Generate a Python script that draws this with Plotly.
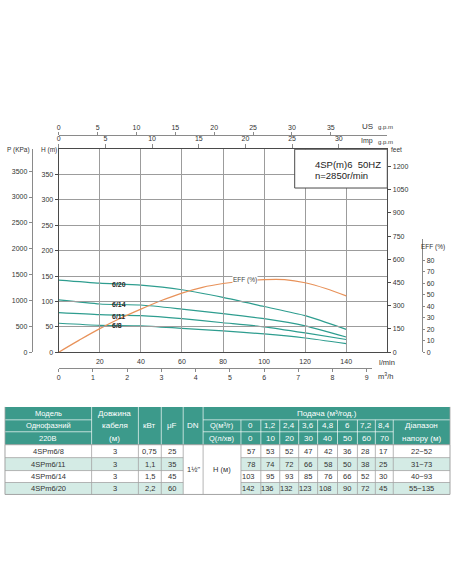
import plotly.graph_objects as go

flow_lmin = [0, 20, 40, 60, 80, 100, 120, 140]
head_6_8 = [57, 53, 52, 47, 42, 36, 28, 17]
head_6_11 = [78, 74, 72, 66, 58, 50, 38, 25]
head_6_14 = [103, 95, 93, 85, 76, 66, 52, 30]
head_6_20 = [142, 136, 132, 123, 108, 90, 72, 45]
curve_names = ["6/8", "6/11", "6/14", "6/20"]

eff_flow = [0, 10, 20, 30, 40, 50, 60, 70, 80, 90, 100, 110, 120, 130, 140]
eff_pct = [0, 10.5, 20.5, 29.5, 37.5, 45, 51.5, 56.5, 59.8, 62, 63.2, 63.2, 60.5, 55.5, 49]

# Table data
models = ["4SPm6/8", "4SPm6/11", "4SPm6/14", "4SPm6/20"]
cable_m = ["3", "3", "3", "3"]
power_kw = ["0,75", "1,1", "1,5", "2,2"]
cap_uf = ["25", "35", "45", "60"]
q_m3h = ["0", "1,2", "2,4", "3,6", "4,8", "6", "7,2", "8,4"]
q_lmin = ["0", "10", "20", "30", "40", "50", "60", "70"]
head_range = ["22~52", "31~73", "40~93", "55~135"]

W, H = 452, 584
FONT = "Liberation Sans, Arial, sans-serif"
TEAL_LINE = "#2e9d8f"
ORANGE = "#e8925a"
TEAL = "#3c9a8b"
LIGHT = "#d4ebe5"
GRID = "#9c9c9c"
FRAME = "#4a4a4a"
TXT = "#333333"


def px(x):
    return x / W


def py(y):
    return 1 - y / H


fig = go.Figure()

# head curves
curve_heads = [head_6_8, head_6_11, head_6_14, head_6_20]
for name, heads in zip(curve_names, curve_heads):
    fig.add_trace(go.Scatter(
        x=flow_lmin, y=heads, mode='lines', name=name,
        line=dict(color=TEAL_LINE, width=1.2, shape='spline', smoothing=0.6),
        showlegend=False, hoverinfo='skip'
    ))

# efficiency curve
fig.add_trace(go.Scatter(
    x=eff_flow, y=eff_pct, mode='lines', name='EFF', xaxis='x', yaxis='y3',
    line=dict(color=ORANGE, width=1.2, shape='spline'),
    showlegend=False, hoverinfo='skip'
))

# invisible helpers so the extra scales get drawn
for xa, ya in [('x', 'y2'), ('x', 'y4'), ('x2', 'y'), ('x3', 'y'), ('x4', 'y')]:
    fig.add_trace(go.Scatter(x=[0], y=[0], xaxis=xa, yaxis=ya, mode='markers',
                             marker=dict(opacity=0), showlegend=False, hoverinfo='skip'))

tick_font = dict(family=FONT, size=7, color=TXT)
x_dom = [px(57), px(387)]
y_dom = [py(354), py(150)]

fig.update_layout(
    width=W, height=H, autosize=False,
    margin=dict(l=0, r=0, t=0, b=0),
    paper_bgcolor='white', plot_bgcolor='rgba(0,0,0,0)',
    font=dict(family=FONT, color=TXT),
    xaxis=dict(domain=x_dom, range=[0, 160], tickvals=list(range(20, 141, 20)),
               showgrid=True, gridcolor=GRID, gridwidth=1, zeroline=False,
               showline=True, mirror=True, linecolor=FRAME, linewidth=1.2,
               ticks='', tickfont=tick_font, ticklabelstandoff=2),
    yaxis=dict(domain=y_dom, range=[0, 400], tickvals=list(range(0, 351, 50)),
               showgrid=True, gridcolor=GRID, gridwidth=1, zeroline=False,
               showline=True, mirror=True, linecolor=FRAME, linewidth=1.2,
               ticks='outside', ticklen=3, tickcolor=FRAME, tickfont=tick_font),
    yaxis2=dict(overlaying='y', anchor='free', position=px(30), side='left',
                range=[0, 400 * 9.81], tickvals=list(range(0, 3501, 500)),
                showgrid=False, zeroline=False, showline=True, linecolor='#8a8a8a',
                linewidth=1.2, ticks='outside', ticklen=3, tickcolor='#8a8a8a',
                tickfont=tick_font),
    yaxis4=dict(overlaying='y', anchor='x', side='right',
                range=[0, 400 * 3.2808], tickvals=list(range(0, 1201, 150)),
                showgrid=False, zeroline=False, showline=True, linecolor=FRAME,
                linewidth=1.2, ticks='outside', ticklen=3, tickcolor=FRAME,
                tickfont=tick_font),
    yaxis3=dict(domain=[py(354), py(240)], anchor='free', position=px(422), side='right',
                range=[0, (354 - 240) / 1.154], tickvals=list(range(0, 81, 10)),
                showgrid=False, zeroline=False, showline=True, linecolor='#8a8a8a',
                linewidth=1.2, ticks='outside', ticklen=2, tickcolor='#8a8a8a',
                tickfont=tick_font),
    xaxis2=dict(overlaying='x', anchor='free', position=py(136), side='top',
                range=[0, 160 / 3.7854], tickvals=list(range(0, 36, 5)),
                showgrid=False, zeroline=False, showline=True, linecolor='#8a8a8a',
                linewidth=1, ticks='outside', ticklen=3, tickcolor='#8a8a8a',
                tickfont=tick_font),
    xaxis3=dict(overlaying='x', anchor='y', side='top',
                range=[0, 160 / 4.5461], tickvals=list(range(0, 31, 5)),
                showgrid=False, zeroline=False, showline=False,
                ticks='outside', ticklen=4, tickcolor='#8a8a8a', tickfont=tick_font),
    xaxis4=dict(domain=[px(57), px(372)], anchor='free', position=py(369.5), side='bottom',
                range=[0, 315 / 34.375], tickvals=list(range(0, 10)),
                showgrid=False, zeroline=False, showline=True, linecolor='#8a8a8a',
                linewidth=1, ticks='outside', ticklen=3, tickcolor='#8a8a8a',
                tickfont=tick_font),
)

shapes = []
annotations = []


def text(x, y, s, size=7, color=TXT, anchor='center', bold=False, bg=None):
    if bold:
        s = '<b>' + s + '</b>'
    a = dict(xref='paper', yref='paper', x=px(x), y=py(y), text=s, showarrow=False,
             xanchor=anchor, yanchor='middle', font=dict(family=FONT, size=size, color=color))
    if bg:
        a['bgcolor'] = bg
        a['borderpad'] = 0
    annotations.append(a)


def rect(x0, y0, x1, y1, fill, line=None, width=0):
    shapes.append(dict(type='rect', xref='paper', yref='paper', layer='above',
                       x0=px(x0), x1=px(x1), y0=py(y1), y1=py(y0), fillcolor=fill,
                       line=dict(width=width, color=line or fill)))


def seg(x0, y0, x1, y1, color, width=0.8):
    shapes.append(dict(type='line', xref='paper', yref='paper', layer='above',
                       x0=px(x0), x1=px(x1), y0=py(y0), y1=py(y1),
                       line=dict(color=color, width=width)))


# axis captions
text(17, 151, 'P (KPa)', size=6.5)
text(47.5, 151, 'H (m)', size=6.5)
text(396, 150, 'feet', size=6.5)
text(433, 248, 'EFF (%)', size=6.5)
text(375, 127, 'US', size=8, anchor='right')
text(376, 128, 'g.p.m', size=6, anchor='left')
text(375, 142, 'Imp', size=7, anchor='right')
text(376, 142.5, 'g.p.m', size=6, anchor='left')
text(387, 364, 'l/min', size=7.5)
text(385, 378, 'm<sup>3</sup>/h', size=7.5)

# curve labels
label_pos = {"6/20": (118, 285.5), "6/14": (117.5, 306.5), "6/11": (117.5, 318.5), "6/8": (116, 327.5)}
for name in curve_names:
    lx, ly = label_pos[name]
    text(lx, ly, name, size=7, color='#2b2b2b', bold=True)
text(244.5, 281, 'EFF (%)', size=6.5, color='#444', bg='white')

# info box
rect(294, 150, 387, 189, 'white', line=FRAME, width=1)
text(312, 165, '4SP(m)6&nbsp;&nbsp;50HZ', size=9.5, color='#222', anchor='left')
text(312, 176.5, 'n=2850r/min', size=9.5, color='#222', anchor='left')

# ---- table ----
col_edges = [3, 90, 137, 160, 182, 202, 240, 260, 279, 298, 317, 337, 357, 375, 393, 450]
row_edges = [409, 422, 434, 447, 460, 473, 485, 497]
c = col_edges
r = row_edges


def cx(i):
    return (c[i] + c[i + 1]) / 2


def ry(j):
    return (r[j] + r[j + 1]) / 2


# header block
rect(c[0], r[0], c[-1], r[3], TEAL)
WL = 'rgba(255,255,255,0.85)'
for i in range(1, 6):
    seg(c[i], r[0], c[i], r[3], WL)
for i in range(6, 15):
    seg(c[i], r[1], c[i], r[3], WL)
seg(c[0], r[1], c[1], r[1], WL)
seg(c[0], r[2], c[1], r[2], WL)
seg(c[5], r[1], c[15], r[1], WL)
seg(c[5], r[2], c[14], r[2], WL)

hw = 'white'
for j, s in enumerate(['Модель', 'Однофазний', '220В']):
    text(cx(0), ry(j), s, size=7.5, color=hw)
for j, s in enumerate(['Довжина', 'кабеля', '(м)']):
    text(cx(1), ry(j), s, size=8, color=hw)
text(cx(2), r[1] + 6, 'кВт', size=8, color=hw)
text(cx(3), r[1] + 6, 'μF', size=8, color=hw)
text(cx(4), r[1] + 6, 'DN', size=8, color=hw)
text((c[5] + c[15]) / 2, ry(0), 'Подача (м³/год.)', size=8, color=hw)
text(cx(5), ry(1), 'Q(м³/г)', size=7.5, color=hw)
text(cx(5), ry(2), 'Q(л/хв)', size=7.5, color=hw)
for k in range(8):
    text(cx(6 + k), ry(1), q_m3h[k], size=8, color=hw)
    text(cx(6 + k), ry(2), q_lmin[k], size=8, color=hw)
text(cx(14), ry(1), 'Діапазон', size=8, color=hw)
text(cx(14), ry(2), 'напору (м)', size=8, color=hw)

# body
for i in range(4):
    y0, y1 = r[3 + i], r[4 + i]
    if i % 2 == 1:
        rect(c[0], y0, c[4], y1, LIGHT)
        rect(c[6], y0, c[15], y1, LIGHT)
    ym = (y0 + y1) / 2
    text(cx(0), ym, models[i], size=7.5)
    text(cx(1), ym, cable_m[i], size=7.5)
    text(cx(2), ym, power_kw[i], size=7.5)
    text(cx(3), ym, cap_uf[i], size=7.5)
    heads = curve_heads[i]
    for k in range(8):
        text(c[7 + k] - 4, ym, str(heads[k]), size=7.5, anchor='right')
    text(cx(14), ym, head_range[i], size=7.5)
text(cx(4), (r[3] + r[7]) / 2, '1½"', size=7.5)
text(cx(5), (r[3] + r[7]) / 2, 'H (м)', size=7.5)

GL = '#a3a3a3'
for i in range(1, 15):
    seg(c[i], r[3], c[i], r[7], GL)
for j in range(4, 7):
    seg(c[0], r[j], c[4], r[j], GL)
    seg(c[6], r[j], c[15], r[j], GL)
rect(c[0], r[3], c[15], r[7], 'rgba(0,0,0,0)', line=GL, width=1)
seg(c[0], r[0], c[0], r[3], GL)
seg(c[15], r[0], c[15], r[3], GL)

fig.update_layout(shapes=shapes, annotations=annotations)

# page has a default body margin; drop it so the figure sits at 0,0
fig.write_html("out.html", config={'displayModeBar': False},
               post_script="document.body.style.margin='0';")
